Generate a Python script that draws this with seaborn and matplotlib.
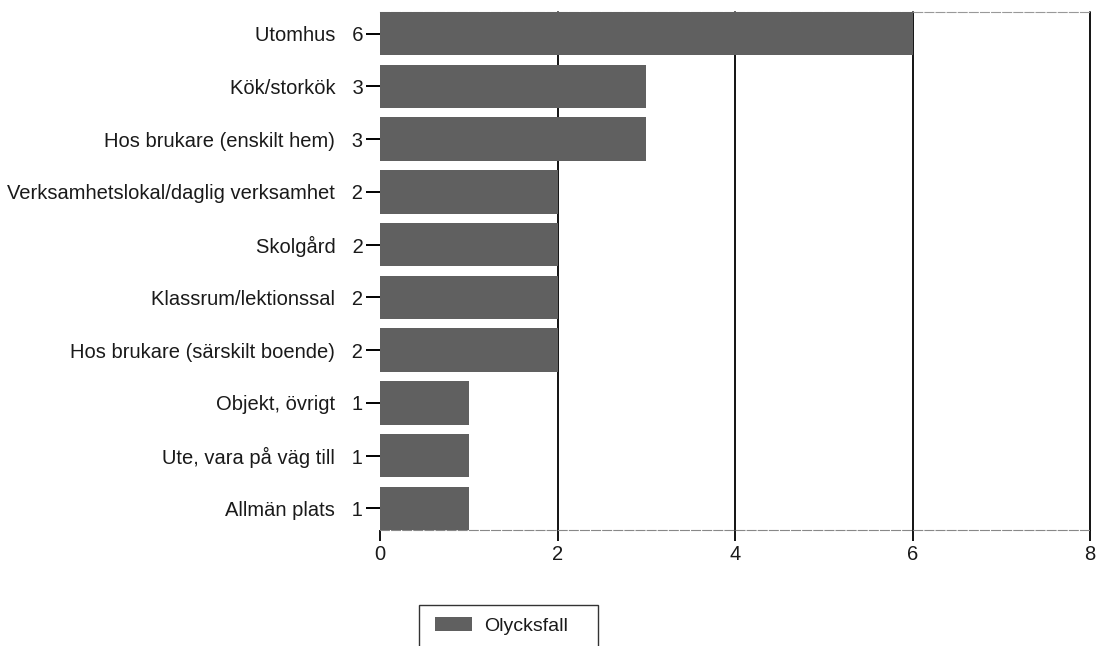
import matplotlib
matplotlib.use("Agg")
import matplotlib.pyplot as plt
import seaborn as sns
import pandas as pd
from matplotlib.patches import Patch, Rectangle

categories = ["Utomhus", "Kök/storkök", "Hos brukare (enskilt hem)",
              "Verksamhetslokal/daglig verksamhet", "Skolgård",
              "Klassrum/lektionssal", "Hos brukare (särskilt boende)",
              "Objekt, övrigt", "Ute, vara på väg till", "Allmän plats"]
values = [6, 3, 3, 2, 2, 2, 2, 1, 1, 1]
x_ticks = [0, 2, 4, 6, 8]
series_name = "Olycksfall"

sns.set_style("white")
plt.rcParams['font.family'] = ['Liberation Sans', 'DejaVu Sans']

labels = [f"{c}   {v}" for c, v in zip(categories, values)]
df = pd.DataFrame({"label": labels, "value": values})

W, H = 1098, 646
fig = plt.figure(figsize=(W / 100, H / 100), dpi=100)
ax = fig.add_axes([380 / W, 1 - 530 / H, 710 / W, 518 / H])

bar_color = "#606060"
bw = 0.82
sns.barplot(data=df, x="value", y="label", orient="h", color=bar_color,
            width=bw, saturation=1, linewidth=0, ax=ax, zorder=3)

ax.set_xlim(0, 8)
ax.set_ylim(len(values) - 1 + bw / 2, -bw / 2)
ax.set_xticks(x_ticks)
ax.set_xticklabels([str(t) for t in x_ticks])
ax.set_xlabel("")
ax.set_ylabel("")

for t in x_ticks[1:]:
    ax.axvline(t, color="black", lw=1.3, zorder=2, clip_on=False)

ax.spines["left"].set_visible(False)
ax.spines["right"].set_visible(False)
ax.spines["top"].set_color("#999999")
ax.spines["top"].set_linewidth(0.8)
ax.spines["top"].set_linestyle((0, (8, 2)))
ax.spines["bottom"].set_color("#888888")
ax.spines["bottom"].set_linewidth(0.8)
ax.spines["bottom"].set_linestyle((0, (8, 2)))

ax.tick_params(axis="y", length=10, width=1.4, color="black", labelsize=14.5,
               pad=2, left=True, labelcolor="#1a1a1a")
ax.tick_params(axis="x", length=8, width=1.3, color="black", labelsize=14.5,
               pad=3, bottom=True, labelcolor="#1a1a1a")

# legend (frame drawn separately; it runs off the bottom edge as in the reference)
handle = Patch(facecolor=bar_color, edgecolor="none", label=series_name)
leg = fig.legend(handles=[handle], loc="center left",
                 bbox_to_anchor=(435 / W, 1 - 626 / H),
                 frameon=False, fontsize=14, handlelength=1.9,
                 handleheight=0.72, borderpad=0, handletextpad=0.62,
                 borderaxespad=0)
for txt in leg.get_texts():
    txt.set_color("#1a1a1a")
fig.add_artist(Rectangle((419 / W, -0.05), (598 - 419) / W, (1 - 605 / H) + 0.05,
                         transform=fig.transFigure, fill=False,
                         edgecolor="#333333", linewidth=1.0))

fig.savefig("out.png", dpi=100)
